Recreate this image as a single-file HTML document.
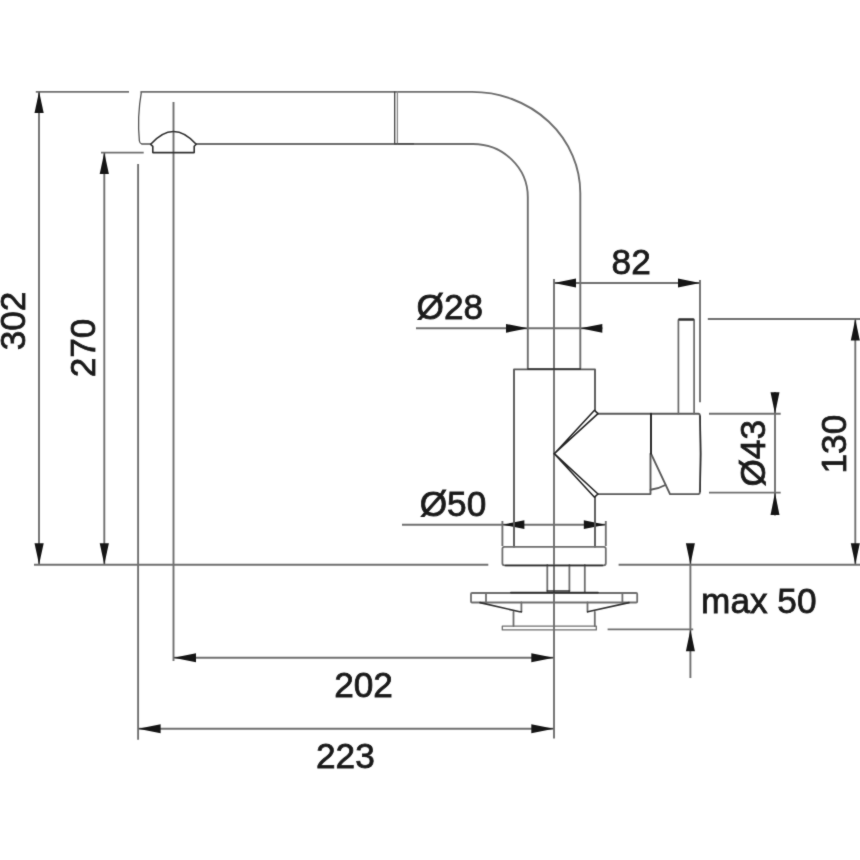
<!DOCTYPE html>
<html lang="en">
<head>
<meta charset="utf-8">
<title>Faucet dimensions</title>
<style>
html,body{margin:0;padding:0;background:#fff;}
body{width:860px;height:860px;overflow:hidden;}
svg{display:block;will-change:transform;filter:grayscale(1);}
.t{stroke:#707070;stroke-width:1.9;fill:none;}
.o{stroke:#6e6e6e;stroke-width:1.9;fill:none;stroke-linejoin:round;stroke-linecap:round;}
.b{stroke:#5a5a5a;}
.l{stroke:#6e6e6e;stroke-width:1.8;}
.k{stroke:#303030;stroke-width:1.6;fill:none;stroke-linejoin:round;stroke-linecap:round;}
.a{fill:#151515;stroke:none;}
text{font-family:"Liberation Sans",Arial,Helvetica,sans-serif;font-size:36px;fill:#1a1a1a;stroke:#1a1a1a;stroke-width:0.8px;text-anchor:middle;}
</style>
</head>
<body>
<svg width="860" height="860" viewBox="0 0 860 860">
<defs><filter id="soft" x="0" y="0" width="860" height="860" filterUnits="userSpaceOnUse" color-interpolation-filters="sRGB"><feConvolveMatrix order="3" kernelMatrix="0.02 0.08 0.02 0.08 0.6 0.08 0.02 0.08 0.02" edgeMode="duplicate" preserveAlpha="false"/></filter></defs>
<rect width="860" height="860" fill="#ffffff"/>
<g filter="url(#soft)">
<rect width="860" height="860" fill="#ffffff"/>

<!-- dimension + extension lines -->
<g class="t">
  <!-- 302 -->
  <path d="M35.8,91.9H129"/>
  <path d="M39,91.9V564.6"/>
  <!-- 270 -->
  <path d="M101,152.6H143.7"/>
  <path d="M104.3,152.6V564.6"/>
  <!-- counter top line -->
  <path d="M34,564.8H488.3"/>
  <path d="M618.6,564.8H860"/>
  <!-- 223 / 202 extension -->
  <path d="M138.1,164V739.8"/>
  <path d="M173.5,102V661"/>
  <path d="M173.5,657.7H553.8"/>
  <path d="M138.1,728.8H553.8"/>
  <!-- centre line -->
  <path d="M554,279V738.6"/>
  <!-- 82 -->
  <path d="M554,283H700"/>
  <path d="M700,280V402.3"/>
  <!-- d28 -->
  <path d="M416,328.3H602.5"/>
  <!-- d50 -->
  <path d="M402,524.7H605.8"/>
  <path d="M502.4,521V546"/>
  <path d="M605.8,521V546"/>
  <!-- d43 -->
  <path d="M709,413.8H780.7"/>
  <path d="M709,492.6H780.7"/>
  <path d="M775,392V515.6"/>
  <!-- 130 -->
  <path d="M707.8,319H860"/>
  <path d="M855.3,319V564.6"/>
  <!-- max 50 -->
  <path d="M690.4,544V678"/>
  <path d="M607.6,629.4H693.2"/>
</g>

<!-- arrow heads -->
<g class="a">
  <path d="M39.1,91.6l-4.6,21.4h9.2z"/>
  <path d="M39.1,564.6l-4.6,-21.4h9.2z"/>
  <path d="M104.3,152.6l-4.6,21.4h9.2z"/>
  <path d="M104.3,564.6l-4.6,-21.4h9.2z"/>
  <path d="M173.5,657.7l22.5,-4.5v9z"/>
  <path d="M553.8,657.7l-22.5,-4.5v9z"/>
  <path d="M138.1,728.8l22.5,-4.5v9z"/>
  <path d="M553.8,728.8l-22.5,-4.5v9z"/>
  <path d="M554,283l22,-4.4v8.8z"/>
  <path d="M700,283l-22,-4.4v8.8z"/>
  <path d="M528,328.3l-22,-4.4v8.8z"/>
  <path d="M580.3,328.3l22,-4.4v8.8z"/>
  <path d="M502.4,524.7l22,-4.4v8.8z"/>
  <path d="M605.8,524.7l-22,-4.4v8.8z"/>
  <path d="M775,413.8l-4.5,-21.5h9z"/>
  <path d="M775,492.6l-4.5,22.5h9z"/>
  <path d="M855.3,319l-4.5,21.4h9z"/>
  <path d="M855.3,564.6l-4.5,-21.4h9z"/>
  <path d="M690.4,564.6l-4.5,-21.4h9z"/>
  <path d="M690.4,629.6l-4.5,21.6h9z"/>
</g>

<!-- faucet outline -->
<g class="o">
  <!-- spout -->
  <path d="M150.7,144H141.8Q139.8,143.6 139.4,141Q137,117 141.4,91.9" style="stroke-width:1.3;stroke:#555"/>
  <path d="M141.2,91.9H472A108.3,101.1 0 0 1 580.3,193V368.5"/>
  <path d="M196,144H473A55,53 0 0 1 527.8,197V368.5"/>
  <path d="M397.4,91.9V144" style="stroke:#8a8a8a;stroke-width:1.3"/>
  <path d="M394.7,92V143.8H413.5" style="stroke:#444;stroke-width:1.3;stroke-linejoin:miter"/>
</g>
<g class="o b">
  <!-- body -->
  <path d="M514,546.8V369.4H595V410.5"/>
  <path d="M595,497V546.8"/>
  <!-- handle -->
  <path d="M597,413.7H698.5Q699.8,413.9 699.9,415.4Q701.2,453.9 699.9,492.4Q699.8,493.9 698.5,494.1H670L651,453.7"/>
  <path d="M597,494.1H650.5V453.7"/>
  <path d="M650.6,489.8Q659,488.6 665.4,485"/>
  <!-- lever -->
  <path d="M678.4,413.7V320.2Q678.4,319.2 679.4,319.2H693.1Q694.1,319.2 694.1,320.2V413.7" style="stroke:#6a6a6a;stroke-width:1.7"/>
</g>
<g class="o l">
  <!-- flange -->
  <path d="M504.4,546.8H603.8Q605.8,546.8 605.8,548.8V563.3Q605.8,565.3 603.8,565.3H504.4Q502.4,565.3 502.4,563.3V548.8Q502.4,546.8 504.4,546.8Z"/>
  <!-- stem -->
  <path d="M547.3,565V591M569.4,565V591M584.8,565V592.5"/>
  <!-- washer -->
  <path d="M472,593H636.2Q637.2,593 637.2,594V601.5Q637.2,602.5 636.2,602.5H472Q471,602.5 471,601.5V594Q471,593 472,593Z"/>
  <path d="M486,593V602.5M622.4,593V602.5"/>
  <path d="M521.4,602.5V611.8M587.5,602.5V611.8"/>
  <!-- nut -->
  <path d="M513.5,611.8V626M594.8,611.8V626"/>
  <path d="M502.3,626.1H596.3V629.9H502.3Z" style="stroke-width:1.3"/>
</g>

<!-- darker strokes -->
<g class="k">
  <path d="M150.7,144.3Q173.5,118.8 196.2,144.3L194.2,146.3V152.6H152.8V146.3Z"/>
  <path d="M528,369H580.3"/>
  <path d="M651,413.7V453.7" style="stroke:#222;stroke-width:1.9"/>
  <path d="M700.2,416Q701.3,453.9 700.2,491.5" style="stroke:#333;stroke-width:1.2"/>
  <path d="M505.5,565.5H602.5"/>
  <path d="M547.3,591H569.4"/>
  <path d="M510.8,592.6H598"/>
  <path d="M480,602.6L519.7,611.8H521.4"/>
  <path d="M629,602.6L587.7,611.8"/>
  <path d="M679.4,319.6H693.2" style="stroke-width:2.2"/>
</g>
<g stroke="#262626" stroke-width="1.6" stroke-linejoin="round">
  <path d="M554.3,453.7L594.5,410.3L598,413.6Z" fill="#fff"/>
  <path d="M554.3,453.7L594.5,497.2L598,494Z" fill="#fff"/>
</g>

<!-- labels -->
<text transform="translate(363.5,697) scale(0.978,1)">202</text>
<text transform="translate(345.4,768) scale(0.978,1)">223</text>
<text transform="translate(631.2,273.6) scale(0.978,1)">82</text>
<text transform="translate(449.8,319.2) scale(0.978,1)">Ø28</text>
<text transform="translate(453,516) scale(0.978,1)">Ø50</text>
<text transform="translate(758.8,613) scale(0.978,1)">max 50</text>
<text transform="translate(25.2,321) rotate(-90) scale(0.978,1)">302</text>
<text transform="translate(94.7,348) rotate(-90) scale(0.978,1)">270</text>
<text transform="translate(764.7,453.3) rotate(-90) scale(0.978,1)">Ø43</text>
<text transform="translate(845.5,444.1) rotate(-90) scale(0.978,1)">130</text>
</g>
</svg>
</body>
</html>
